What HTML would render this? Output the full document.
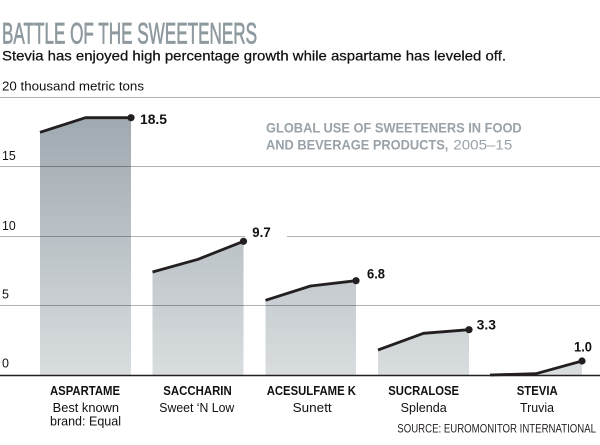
<!DOCTYPE html>
<html>
<head>
<meta charset="utf-8">
<style>
html,body{margin:0;padding:0;background:#fff;}
svg{display:block;}
text{font-family:"Liberation Sans",sans-serif;}
</style>
</head>
<body>
<svg width="600" height="445" viewBox="0 0 600 445" xmlns="http://www.w3.org/2000/svg">
<defs>
<linearGradient id="g" gradientUnits="userSpaceOnUse" x1="0" y1="117" x2="0" y2="375">
<stop offset="0" stop-color="#9fa9b0"/>
<stop offset="1" stop-color="#d9dddf"/>
</linearGradient>
</defs>

<!-- Title -->
<text x="2" y="43.3" font-size="30" fill="#8e999f" stroke="#8e999f" stroke-width="0.7" textLength="255" lengthAdjust="spacingAndGlyphs">BATTLE OF THE SWEETENERS</text>
<text x="2" y="60.7" font-size="14" fill="#111" stroke="#111" stroke-width="0.25" textLength="504" lengthAdjust="spacingAndGlyphs">Stevia has enjoyed high percentage growth while aspartame has leveled off.</text>
<text x="2" y="90.7" font-size="12.5" fill="#111" textLength="142" lengthAdjust="spacingAndGlyphs">20 thousand metric tons</text>

<!-- areas -->
<polygon points="40,375.3 40,132.3 85.5,117.7 131,117.7 131,375.3" fill="url(#g)"/>
<polygon points="152.5,375.3 152.5,272 198,259.3 243.5,241.3 243.5,375.3" fill="url(#g)"/>
<polygon points="265.5,375.3 265.5,300.3 310.5,286 356,280.7 356,375.3" fill="url(#g)"/>
<polygon points="378,375.3 378,350 423.5,333.3 469,329.7 469,375.3" fill="url(#g)"/>
<polygon points="490,375.3 490,375 536,373.7 582,361 582,375.3" fill="url(#g)"/>

<!-- gridlines -->
<g stroke="#000" stroke-opacity="0.3" stroke-width="1">
<line x1="0" y1="97.5" x2="600" y2="97.5"/>
<line x1="0" y1="166.5" x2="600" y2="166.5"/>
<line x1="0" y1="236.5" x2="245" y2="236.5"/>
<line x1="287" y1="236.5" x2="600" y2="236.5"/>
<line x1="0" y1="305.5" x2="600" y2="305.5"/>
</g>
<line x1="0" y1="375.5" x2="600" y2="375.5" stroke="#231f20" stroke-width="1.5"/>

<!-- y labels -->
<g font-size="12.5" fill="#111">
<text x="2" y="160" textLength="13.7" lengthAdjust="spacingAndGlyphs">15</text>
<text x="2" y="230" textLength="13.7" lengthAdjust="spacingAndGlyphs">10</text>
<text x="2" y="298.5">5</text>
<text x="2" y="367.5">0</text>
</g>

<!-- lines -->
<g fill="none" stroke="#231f20" stroke-width="2.8" stroke-linejoin="round">
<polyline points="40,132.3 85.5,117.7 131,117.7"/>
<polyline points="152.5,272 198,259.3 243.5,241.3"/>
<polyline points="265.5,300.3 310.5,286 356,280.7"/>
<polyline points="378,350 423.5,333.3 469,329.7"/>
<polyline points="490,375 536,373.7 582,361"/>
</g>
<g fill="#231f20">
<circle cx="131" cy="117.7" r="3.6"/>
<circle cx="243.5" cy="241.3" r="3.6"/>
<circle cx="356" cy="280.7" r="3.6"/>
<circle cx="469" cy="329.7" r="3.6"/>
<circle cx="582" cy="361" r="3.6"/>
</g>

<!-- value labels -->
<g font-size="13.5" font-weight="bold" fill="#111">
<text x="140" y="124" textLength="27" lengthAdjust="spacingAndGlyphs">18.5</text>
<text x="252.3" y="237" textLength="18.4" lengthAdjust="spacingAndGlyphs">9.7</text>
<text x="367" y="278.7" textLength="18" lengthAdjust="spacingAndGlyphs">6.8</text>
<text x="476.7" y="329.3" textLength="19.3" lengthAdjust="spacingAndGlyphs">3.3</text>
<text x="574" y="351.7" textLength="18" lengthAdjust="spacingAndGlyphs">1.0</text>
</g>

<!-- chart caption -->
<g font-size="13.7" fill="#98a2a8">
<text x="266" y="132.7" font-weight="bold" textLength="255.7" lengthAdjust="spacingAndGlyphs">GLOBAL USE OF SWEETENERS IN FOOD</text>
<text x="266" y="149.3" font-weight="bold" textLength="182.3" lengthAdjust="spacingAndGlyphs">AND BEVERAGE PRODUCTS,</text>
<text x="453.3" y="149.3" textLength="59" lengthAdjust="spacingAndGlyphs">2005–15</text>
</g>

<!-- category labels -->
<g font-size="12.5" fill="#111" font-weight="bold">
<text x="50" y="395" textLength="70" lengthAdjust="spacingAndGlyphs">ASPARTAME</text>
<text x="163.3" y="395" textLength="68.4" lengthAdjust="spacingAndGlyphs">SACCHARIN</text>
<text x="266.7" y="395" textLength="89.3" lengthAdjust="spacingAndGlyphs">ACESULFAME K</text>
<text x="388.3" y="395" textLength="70.7" lengthAdjust="spacingAndGlyphs">SUCRALOSE</text>
<text x="516.7" y="395" textLength="41" lengthAdjust="spacingAndGlyphs">STEVIA</text>
</g>
<g font-size="12.5" fill="#111">
<text x="52.7" y="412" textLength="66.3" lengthAdjust="spacingAndGlyphs">Best known</text>
<text x="50" y="425.7" textLength="71" lengthAdjust="spacingAndGlyphs">brand: Equal</text>
<text x="159.3" y="412" textLength="75" lengthAdjust="spacingAndGlyphs">Sweet ‘N Low</text>
<text x="292.7" y="412" textLength="39" lengthAdjust="spacingAndGlyphs">Sunett</text>
<text x="400.7" y="412" textLength="46" lengthAdjust="spacingAndGlyphs">Splenda</text>
<text x="520" y="412" textLength="34" lengthAdjust="spacingAndGlyphs">Truvia</text>
</g>

<text x="397.3" y="432.7" font-size="12" fill="#231f20" textLength="198.7" lengthAdjust="spacingAndGlyphs">SOURCE: EUROMONITOR INTERNATIONAL</text>
</svg>
</body>
</html>
